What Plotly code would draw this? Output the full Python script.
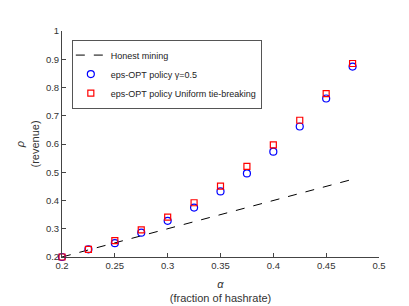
import plotly.graph_objects as go

alpha = [0.2, 0.225, 0.25, 0.275, 0.3, 0.325, 0.35, 0.375, 0.4, 0.425, 0.45, 0.475]
honest = [0.2, 0.225, 0.25, 0.275, 0.3, 0.325, 0.35, 0.375, 0.4, 0.425, 0.45, 0.475]
eps_gamma = [0.2, 0.227, 0.249, 0.286, 0.328, 0.375, 0.432, 0.496, 0.573, 0.662, 0.761, 0.874]
eps_uniform = [0.2, 0.227, 0.258, 0.296, 0.341, 0.392, 0.451, 0.521, 0.597, 0.684, 0.778, 0.885]

x_ticks = [0.2, 0.25, 0.3, 0.35, 0.4, 0.45, 0.5]
x_labels = ["0.2", "0.25", "0.3", "0.35", "0.4", "0.45", "0.5"]
y_ticks = [0.2, 0.3, 0.4, 0.5, 0.6, 0.7, 0.8, 0.9, 1.0]
y_labels = ["0.2", "0.3", "0.4", "0.5", "0.6", "0.7", "0.8", "0.9", "1"]

fig = go.Figure()
fig.add_trace(go.Scatter(x=alpha, y=honest, mode="lines", name="Honest mining",
                         line=dict(color="black", dash="dash", width=1)))
fig.add_trace(go.Scatter(x=alpha, y=eps_gamma, mode="markers", name="eps-OPT policy γ=0.5",
                         marker=dict(symbol="circle-open", color="blue", size=7, line=dict(width=1.2)),
                         cliponaxis=False))
fig.add_trace(go.Scatter(x=alpha, y=eps_uniform, mode="markers", name="eps-OPT policy Uniform tie-breaking",
                         marker=dict(symbol="square-open", color="red", size=6, line=dict(width=1.2)),
                         cliponaxis=False))

axis_common = dict(showgrid=False, zeroline=False, showline=True, linecolor="#444", linewidth=1,
                   ticks="inside", ticklen=4, tickcolor="#444", tickfont=dict(size=9.5, color="#333"),
                   mirror=False)

fig.update_layout(
    width=409, height=306,
    margin=dict(l=53, r=38, t=23, b=47),
    paper_bgcolor="white", plot_bgcolor="white",
    font=dict(family="Liberation Sans, Arial, sans-serif", size=10, color="#333"),
    xaxis=dict(range=[0.2, 0.5], tickvals=x_ticks, ticktext=x_labels,
               title=dict(text="<i>α</i><br>(fraction of hashrate)", font=dict(size=11), standoff=9),
               **axis_common),
    yaxis=dict(range=[0.2, 1.0], tickvals=y_ticks, ticktext=y_labels,
               title=dict(text="<i>ρ</i><br>(revenue)", font=dict(size=11), standoff=4),
               **axis_common),
    showlegend=True,
    legend=dict(x=0.031, y=0.962, xanchor="left", yanchor="top", bgcolor="white",
                bordercolor="#555", borderwidth=1, font=dict(size=9, color="#222"),
                tracegroupgap=0, itemwidth=30, indentation=-2),
)

fig.write_html("out.html")
